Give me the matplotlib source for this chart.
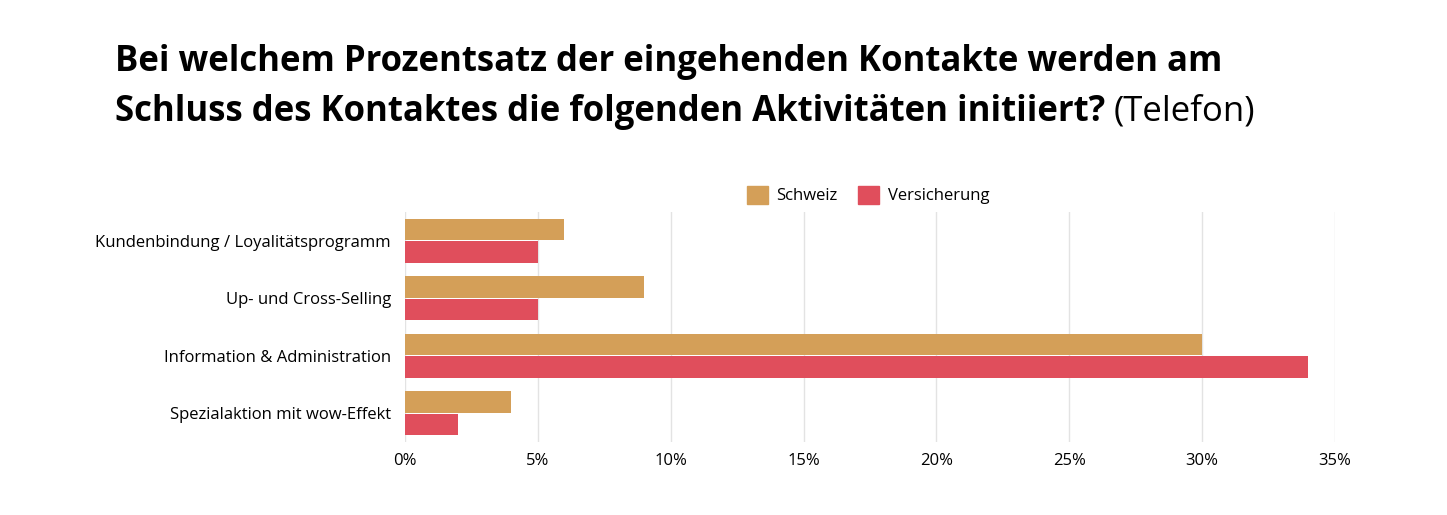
import matplotlib
matplotlib.use("Agg")
import matplotlib.pyplot as plt
import numpy as np
from matplotlib.patches import Patch

categories = ["Kundenbindung / Loyalitätsprogramm", "Up- und Cross-Selling",
              "Information & Administration", "Spezialaktion mit wow-Effekt"]
schweiz = [6, 9, 30, 4]
versicherung = [5, 5, 34, 2]
ticks = [0, 5, 10, 15, 20, 25, 30, 35]

plt.rcParams['font.family'] = ['Open Sans', 'DejaVu Sans']
W, H = 1447, 515
fig = plt.figure(figsize=(W/100, H/100), dpi=100)
fig.patch.set_facecolor('white')
ax = fig.add_axes([405/W, 1-442/H, (1335-405)/W, (442-212)/H])

y = np.arange(len(categories))
h = 0.37
c1, c2 = '#D49F58', '#E04E5C'
ax.barh(y - h/2 - 0.01, schweiz, height=h, color=c1, zorder=3)
ax.barh(y + h/2 + 0.01, versicherung, height=h, color=c2, zorder=3)
ax.set_ylim(3.5, -0.5)
ax.set_xlim(0, 35)
ax.set_xticks(ticks)
ax.set_xticklabels([f"{t}%" for t in ticks], fontsize=12)
ax.set_yticks(y)
ax.set_yticklabels(categories, fontsize=12)
ax.tick_params(length=0, pad=10)
ax.tick_params(axis='x', pad=8)
ax.grid(axis='x', color='#e3e3e3', lw=1, zorder=0)
for s in ax.spines.values():
    s.set_visible(False)

fig.legend(handles=[Patch(color=c1, label='Schweiz'), Patch(color=c2, label='Versicherung')],
           loc='center', bbox_to_anchor=(868/W, 1-195/H), ncol=2, frameon=False,
           fontsize=12, handlelength=1.3, handleheight=1.3, columnspacing=1.2, handletextpad=0.5)

fig.text(115/W, 1-62/H, "Bei welchem Prozentsatz der eingehenden Kontakte werden am",
         fontsize=25, fontweight='bold', va='center')
t2 = fig.text(115/W, 1-112/H, "Schluss des Kontaktes die folgenden Aktivitäten initiiert?",
              fontsize=25, fontweight='bold', va='center')
fig.canvas.draw()
bb = t2.get_window_extent()
fig.text(bb.x1/W + 8/W, 1-112/H, "(Telefon)", fontsize=25, va='center')
fig.savefig("out.png", dpi=100)
